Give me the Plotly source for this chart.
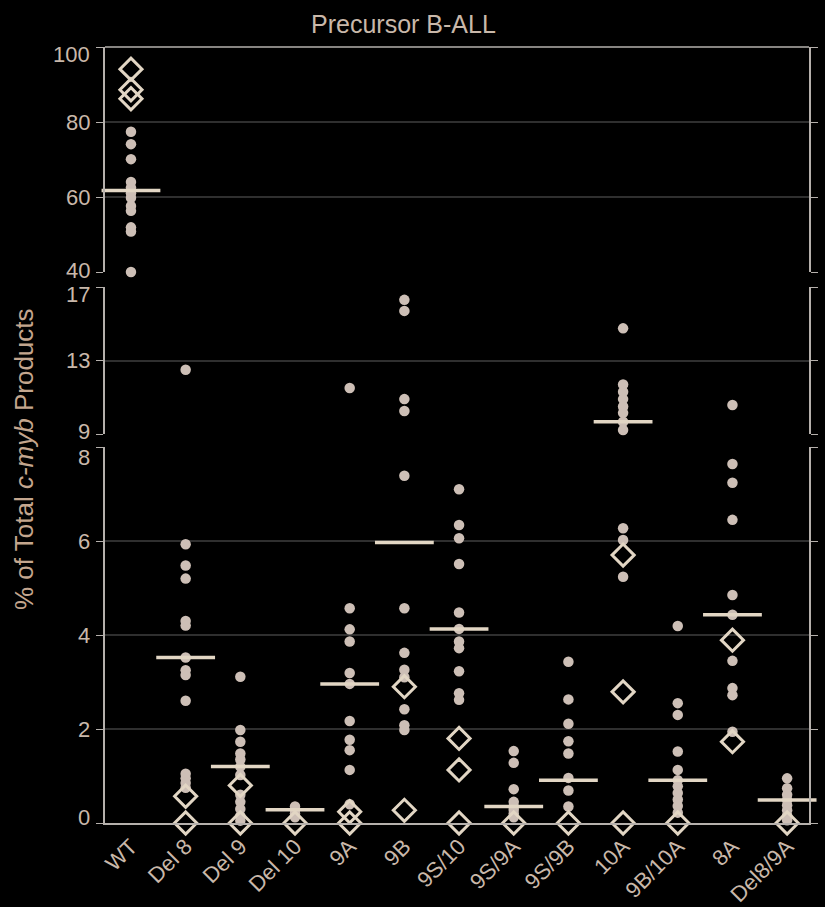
import plotly.graph_objects as go

# Splice variants of c-myb transcripts, precursor B-ALL samples
categories = ["WT", "Del 8", "Del 9", "Del 10", "9A", "9B", "9S/10",
              "9S/9A", "9S/9B", "10A", "9B/10A", "8A", "Del8/9A"]

# Individual samples (filled dots), % of total c-myb products
dot_values = [
    [77.4, 74.1, 70.1, 64.0, 62.5, 61.0, 59.8, 57.6, 56.3, 51.9, 50.8, 40.0],
    [12.5, 5.93, 5.48, 5.2, 4.3, 4.2, 3.52, 3.25, 3.15, 2.6, 1.05, 0.95, 0.85, 0.75],
    [3.11, 1.98, 1.73, 1.48, 1.35, 1.2, 1.02, 0.6, 0.45, 0.3, 0.15, 0.05],
    [0.35, 0.28, 0.2, 0.12],
    [11.5, 4.57, 4.12, 3.86, 3.19, 2.96, 2.17, 1.77, 1.55, 1.13, 0.4],
    [16.3, 15.7, 10.9, 10.25, 7.39, 4.57, 3.62, 3.26, 3.1, 2.42, 2.08, 1.98],
    [7.1, 6.34, 6.06, 5.51, 4.48, 4.13, 3.86, 3.72, 3.23, 2.76, 2.62],
    [1.53, 1.28, 0.72, 0.45, 0.35, 0.28, 0.2, 0.12],
    [3.43, 2.63, 2.11, 1.74, 1.48, 0.96, 0.69, 0.35],
    [14.75, 11.7, 11.3, 10.9, 10.5, 10.15, 9.67, 9.22, 6.27, 6.02, 5.24],
    [4.19, 2.55, 2.3, 1.52, 1.13, 0.91, 0.78, 0.64, 0.5, 0.36, 0.22],
    [10.58, 7.64, 7.24, 6.45, 4.85, 4.43, 3.45, 2.87, 2.72, 1.94],
    [0.95, 0.74, 0.6, 0.49, 0.38, 0.27, 0.16, 0.06],
]

# Cell lines / normal controls (open diamonds)
diamond_values = [
    [94.1, 88.6, 86.2],
    [0.57, 0.0],
    [0.8, 0.0],
    [0.0],
    [0.24, 0.0],
    [2.9, 0.27],
    [1.8, 1.13, 0.0],
    [0.0],
    [0.0],
    [5.7, 2.79, 0.0],
    [0.0],
    [3.89, 1.73],
    [0.0],
]

# Median per variant
medians = [61.7, 3.52, 1.2, 0.28, 2.96, 5.97, 4.13, 0.35, 0.91, 9.67, 0.91, 4.43, 0.49]

# Broken y axis: three stacked panels
panel_ranges = [[40, 100], [9, 17], [0, 8]]
panel_ticks = [[40, 60, 80, 100], [9, 13, 17], [0, 2, 4, 6, 8]]
# small vertical nudges so labels at the panel joins don't collide
panel_label_nudge = [{100: -7, 40: 2}, {17: -7, 9: 3}, {8: -11, 0: 6}]

W, H = 825, 907
ML, MR, MT, MB = 105, 16, 47, 84
plot_h = H - MT - MB
plot_w = W - ML - MR


def frac(px_from_top):
    return (H - MB - px_from_top) / plot_h


panel_domains = [[frac(272), 1.0], [frac(434), frac(287)], [0.0, frac(447)]]
axis_names = ["y", "y2", "y3"]

TEXT = "#c9b8aa"
DOT = "#cdbfb6"
DIAM = "#e2d6c4"
LINE = "#b5b0ac"
GRID = "#2f2f2f"
FONT = "Liberation Sans, Arial, sans-serif"
TICK_SIZE = 22

fig = go.Figure()

for p, (lo, hi) in enumerate(panel_ranges):
    dx, dy, mx, my, ix, iy = [], [], [], [], [], []
    for i, cat in enumerate(categories):
        for v in dot_values[i]:
            if lo <= v <= hi:
                dx.append(i)
                dy.append(v)
        for v in diamond_values[i]:
            if lo <= v <= hi:
                ix.append(i)
                iy.append(v)
        if lo <= medians[i] <= hi:
            mx.append(i)
            my.append(medians[i])
    ya = axis_names[p]
    fig.add_trace(go.Scatter(
        x=dx, y=dy, mode="markers", yaxis=ya, cliponaxis=False,
        marker=dict(symbol="circle", size=10.5, color=DOT,
                    line=dict(width=0)),
        showlegend=False, hoverinfo="y"))
    fig.add_trace(go.Scatter(
        x=ix, y=iy, mode="markers", yaxis=ya, cliponaxis=False,
        marker=dict(symbol="diamond-open", size=17, color=DIAM,
                    line=dict(width=3, color=DIAM)),
        showlegend=False, hoverinfo="y"))
    fig.add_trace(go.Scatter(
        x=mx, y=my, mode="markers", yaxis=ya, cliponaxis=False,
        marker=dict(symbol="line-ew", size=42, color=DIAM,
                    line=dict(width=3.5, color=DIAM)),
        showlegend=False, hoverinfo="y"))

yaxis_common = dict(
    showline=True, linecolor=LINE, linewidth=1.5, mirror="ticks",
    ticks="outside", ticklen=7, tickcolor=LINE, tickwidth=1.2,
    showgrid=True, gridcolor=GRID, gridwidth=1.5, zeroline=False,
    showticklabels=False, automargin=False,
    anchor="x",
)

layout_axes = {}
for p in range(3):
    key = "yaxis" if p == 0 else f"yaxis{p + 1}"
    layout_axes[key] = dict(
        yaxis_common,
        range=panel_ranges[p],
        tickvals=panel_ticks[p],
        domain=panel_domains[p],
    )

# y tick labels, one set per panel
tick_annotations = []
for p in range(3):
    for t in panel_ticks[p]:
        tick_annotations.append(dict(
            text=str(t), xref="paper", yref=axis_names[p],
            x=0, y=t, xanchor="right", yanchor="middle",
            xshift=-13, yshift=panel_label_nudge[p].get(t, 0),
            showarrow=False,
            font=dict(family=FONT, size=TICK_SIZE, color=TEXT)))

fig.update_layout(
    width=W, height=H,
    margin=dict(l=ML, r=MR, t=MT, b=MB, autoexpand=False),
    paper_bgcolor="#000000", plot_bgcolor="#000000",
    xaxis=dict(
        range=[-0.475, 12.4], tickvals=list(range(len(categories))),
        ticktext=categories, tickangle=-45, ticklabeloverflow="allow",
        showline=True, linecolor=LINE, linewidth=2,
        ticks="", showgrid=False, zeroline=False, automargin=False,
        tickfont=dict(family=FONT, size=22, color=TEXT),
        anchor="y3",
    ),
    **layout_axes,
    annotations=tick_annotations + [
        dict(text="Precursor B-ALL", xref="paper", yref="paper",
             x=(403 - ML) / plot_w, y=1 + (MT - 24) / plot_h,
             xanchor="center", yanchor="middle", showarrow=False,
             font=dict(family=FONT, size=25, color=TEXT)),
        dict(text="% of Total <i>c-myb</i> Products", xref="paper", yref="paper",
             x=(24 - ML) / plot_w, y=frac(459), textangle=-90,
             xanchor="center", yanchor="middle", showarrow=False,
             font=dict(family=FONT, size=26, color="#c4a68e")),
    ],
    shapes=[
        dict(type="line", xref="paper", yref="paper", x0=0, x1=1, y0=1, y1=1,
             line=dict(color=LINE, width=1.5)),
    ],
)

fig.write_html("out.html")
